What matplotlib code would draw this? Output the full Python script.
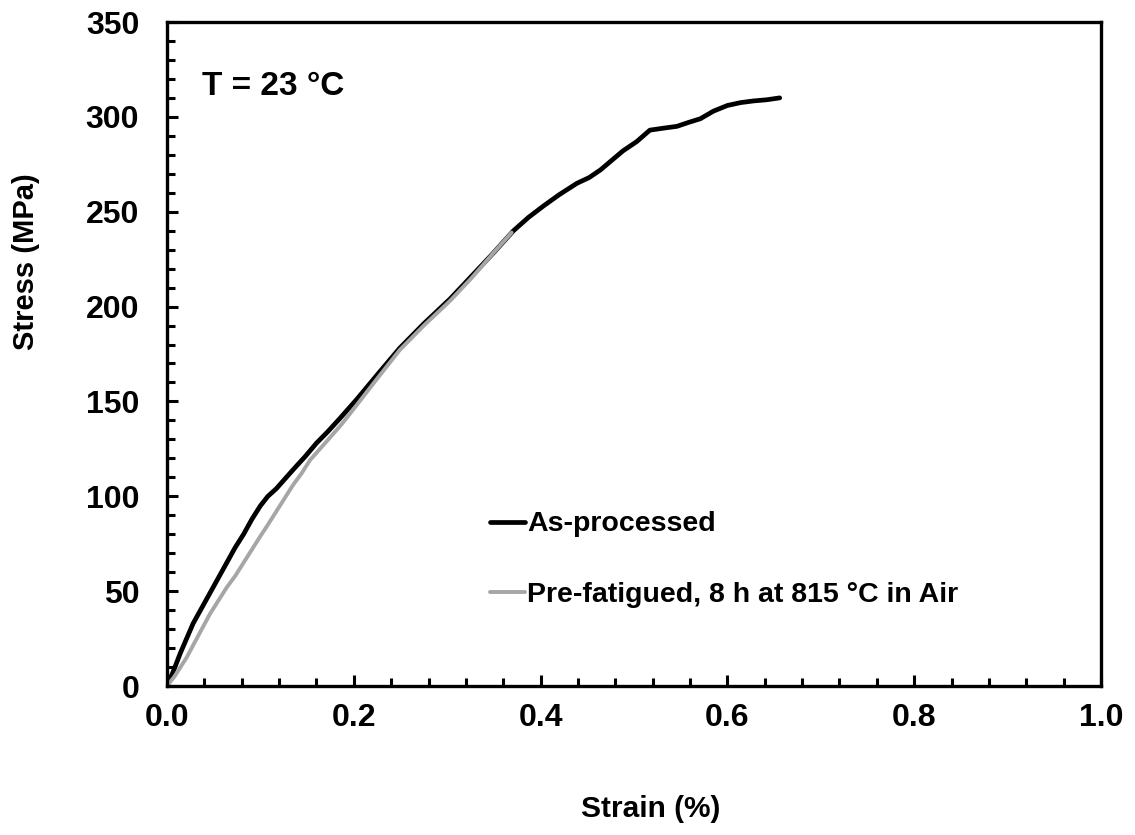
import matplotlib
matplotlib.use("Agg")
import matplotlib.pyplot as plt
from matplotlib.ticker import MultipleLocator, FormatStrFormatter

# as-processed curve (strain %, stress MPa)
strain_ap = [0.0, 0.007, 0.014, 0.021, 0.028, 0.037, 0.046, 0.055, 0.064, 0.073,
             0.082, 0.091, 0.100, 0.108, 0.117, 0.126, 0.135, 0.148, 0.160, 0.172,
             0.185, 0.203, 0.225, 0.249, 0.275, 0.303, 0.326, 0.349, 0.371, 0.387,
             0.403, 0.420, 0.439, 0.452, 0.464, 0.476, 0.488, 0.503, 0.517, 0.531,
             0.546, 0.558, 0.571, 0.585, 0.600, 0.614, 0.628, 0.642, 0.656]
stress_ap = [0, 8, 17, 25, 33, 41, 49, 57, 65, 73,
             80, 88, 95, 100, 104, 109, 114, 121, 128, 134,
             141, 151, 164, 178, 191, 204, 216, 228, 240, 247,
             253, 259, 265, 268, 272, 277, 282, 287, 293, 294,
             295, 297, 299, 303, 306, 307.5, 308.4, 309, 310]

# pre-fatigued curve
strain_pf = [0.0, 0.008, 0.021, 0.034, 0.046, 0.055, 0.064, 0.073, 0.082, 0.091,
             0.100, 0.108, 0.117, 0.126, 0.135, 0.144, 0.153, 0.162, 0.171, 0.187,
             0.203, 0.225, 0.249, 0.275, 0.303, 0.326, 0.349, 0.369]
stress_pf = [0, 5, 15, 27, 38, 45, 52, 58, 65, 72,
             79, 85, 92, 99, 106, 112, 119, 124, 129, 138,
             148, 162, 177, 190, 203, 215, 228, 239]

labels = ["As-processed", "Pre-fatigued, 8 h at 815 \u00b0C in Air"]
temp_text = "T = 23 \u00b0C"

plt.rcParams['font.family'] = ['Liberation Sans', 'DejaVu Sans']
plt.rcParams['font.weight'] = 'bold'

fig = plt.figure(figsize=(11.35, 8.35), dpi=100)
ax = fig.add_axes([167 / 1135, 1 - 686 / 835, 934 / 1135, 664 / 835])

ax.plot(strain_ap, stress_ap, color='black', lw=3.4, label=labels[0],
        solid_capstyle='round', solid_joinstyle='round')
ax.plot(strain_pf, stress_pf, color='#a6a6a6', lw=2.8, label=labels[1],
        solid_capstyle='round', solid_joinstyle='round')

ax.set_xlim(0, 1.0)
ax.set_ylim(0, 350)
ax.xaxis.set_major_locator(MultipleLocator(0.2))
ax.xaxis.set_minor_locator(MultipleLocator(0.04))
ax.yaxis.set_major_locator(MultipleLocator(50))
ax.yaxis.set_minor_locator(MultipleLocator(10))
ax.xaxis.set_major_formatter(FormatStrFormatter('%.1f'))

ax.tick_params(which='both', direction='in', width=2.2, labelsize=23)
ax.tick_params(which='major', length=8)
ax.tick_params(which='minor', length=6)
ax.tick_params(axis='x', pad=12)
ax.tick_params(axis='y', pad=20)
for s in ax.spines.values():
    s.set_linewidth(2.4)

ax.set_xlabel("Strain (%)", fontsize=21.5, fontweight='bold')
ax.set_ylabel("Stress (MPa)", fontsize=21, fontweight='bold')
ax.xaxis.set_label_coords(0.518, -0.164)
ax.yaxis.set_label_coords(-0.136, 0.639)

ax.text(0.038, 0.903, temp_text, transform=ax.transAxes, fontsize=24,
        fontweight='bold', va='center', ha='left')

leg = ax.legend(loc='upper left', bbox_to_anchor=(0.334, 0.28), frameon=False,
                fontsize=20.5, handlelength=1.2, handletextpad=0.1,
                labelspacing=1.58, borderaxespad=0)
for t in leg.get_texts():
    t.set_fontweight('bold')

fig.savefig("out.png", dpi=100)
